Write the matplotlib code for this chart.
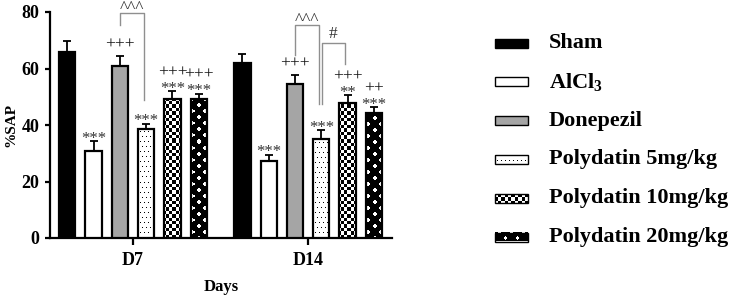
import numpy as np
import matplotlib
matplotlib.use("Agg")
import matplotlib.pyplot as plt
from matplotlib.patches import Rectangle

plt.rcParams['font.family'] = ['Liberation Serif', 'DejaVu Serif']
plt.rcParams['mathtext.fontset'] = 'custom'
plt.rcParams['mathtext.rm'] = 'Liberation Serif:bold'
plt.rcParams['mathtext.bf'] = 'Liberation Serif:bold'
plt.rcParams['mathtext.default'] = 'bf'

# data
days = ['D7', 'D14']
groups = ['Sham', 'AlCl$_3$', 'Donepezil', 'Polydatin 5mg/kg',
          'Polydatin 10mg/kg', 'Polydatin 20mg/kg']
means_d7 = [65.9, 30.8, 60.9, 38.6, 49.3, 49.3]
sem_d7 = [3.9, 3.6, 3.6, 1.9, 2.8, 1.8]
means_d14 = [61.8, 27.4, 54.5, 35.0, 47.9, 44.1]
sem_d14 = [3.3, 2.1, 3.3, 3.3, 2.7, 2.2]
stars_d7 = ['', '***', '', '***', '***', '***']
plus_d7 = ['', '', '+++', '', '+++', '+++']
stars_d14 = ['', '***', '', '***', '**', '***']
plus_d14 = ['', '', '+++', '', '+++', '++']
# (day, bar a, bar b, top, left leg end, right leg end, label)
brackets = [(0, 2, 3, 79.7, 75.4, 48.8, '^^^'),
            (1, 2, 3, 75.4, 64.8, 47.4, '^^^'),
            (1, 3, 4, 69.1, 47.4, 61.6, '#')]

faces = ['black', 'white', '#a5a5a5', 'white', 'white', 'white']
kinds = [None, None, None, 'dots', 'checker', 'diamond']
group_gap = 6.66
bar_w = 0.62
offsets = np.arange(6) - 2.5


def pattern(kind, X, Y):
    if kind == 'dots':
        row = np.floor(Y / 5.0)
        dark = (np.mod(Y, 5.0) < 1) & (np.mod(X + 2 * np.mod(row, 2), 4.0) < 1)
    elif kind == 'checker':
        c = 3.4
        dark = np.mod(np.floor(X / c) + np.floor(Y / c), 2) == 0
    else:
        p, w = 12.0, 5.0
        Xs = X + p / 2
        d1 = np.mod(Xs + Y, p) - p / 2
        d2 = np.mod(Xs - Y, p) - p / 2
        dark = ~((np.abs(d1) < w / 2) & (np.abs(d2) < w / 2))
    img = np.where(dark, 0.0, 1.0)
    return np.dstack([img] * 3)


def fill_bar(ax, bar, kind):
    inv = ax.transData.inverted()
    x0, y0 = ax.transData.transform((bar.get_x(), 0))
    x1, y1 = ax.transData.transform((bar.get_x() + bar.get_width(), bar.get_height()))
    x0, y0 = np.floor(x0), np.floor(y0)
    nx, ny = int(np.ceil(x1 - x0)), int(np.ceil(y1 - y0))
    cx = (x0 + x1) / 2
    X, Y = np.meshgrid(x0 + 0.5 + np.arange(nx) - cx, 0.5 + np.arange(ny))
    (dx0, dy0), (dx1, dy1) = inv.transform([(x0, y0), (x0 + nx, y0 + ny)])
    im = ax.imshow(pattern(kind, X, Y), origin='lower', extent=(dx0, dx1, dy0, dy1),
                   aspect='auto', interpolation='nearest', zorder=3.5)
    im.set_clip_path(bar)


fig = plt.figure(figsize=(7.4, 2.95), dpi=100)
ax = fig.add_axes([50 / 740, 57 / 295, 342 / 740, 226 / 295])
ax.set_xlim(-3.16, 9.85)
ax.set_ylim(0, 80)

data = [(means_d7, sem_d7, stars_d7, plus_d7), (means_d14, sem_d14, stars_d14, plus_d14)]
for g, (means, errs, stars, plus) in enumerate(data):
    xs = g * group_gap + offsets
    ax.errorbar(xs, means, yerr=[np.zeros(6), errs], fmt='none', ecolor='black',
                elinewidth=1.3, capsize=3.2, capthick=1.3, zorder=2)
    bars = ax.bar(xs, means, width=bar_w, color=faces, edgecolor='none', zorder=3)
    for bar, kind in zip(bars, kinds):
        if kind:
            fill_bar(ax, bar, kind)
    ax.bar(xs, means, width=bar_w, fill=False, edgecolor='black', linewidth=1.6, zorder=5)
    for x, m, e, s, p in zip(xs, means, errs, stars, plus):
        if s:
            ax.annotate(s, (x, m + e), xytext=(0, -1.3), textcoords='offset points',
                        ha='center', va='baseline', fontsize=12, color='#333333')
        if p:
            ax.annotate(p, (x, m + e), xytext=(0, 10.5 if s else 5.0),
                        textcoords='offset points', ha='center', va='baseline',
                        fontsize=12.5, color='#111111')

for g, a, b, top, lb, rb, lab in brackets:
    xa = g * group_gap + offsets[a] + (0.03 if lab == '#' else 0)
    xb = g * group_gap + offsets[b] - 0.1
    ax.plot([xa, xa, xb, xb], [lb, top, top, rb], color='#8f8f8f', lw=1,
            clip_on=False, zorder=6)
    ax.annotate(lab, ((xa + xb) / 2, top), xytext=(0, 0.5 if lab == '^^^' else 3.3),
                textcoords='offset points', ha='center', va='baseline',
                fontsize=12.5, color='#333333', annotation_clip=False)

for side in ['top', 'right']:
    ax.spines[side].set_visible(False)
for side in ['left', 'bottom']:
    ax.spines[side].set_linewidth(1.6)
ax.set_yticks([0, 20, 40, 60, 80])
ax.set_xticks([0, group_gap])
ax.set_xticklabels(days)
ax.tick_params(axis='y', length=3.6, width=1.6, pad=4, labelsize=13)
ax.tick_params(axis='x', length=5, width=1.6, pad=5, labelsize=13)
for lbl in ax.get_xticklabels() + ax.get_yticklabels():
    lbl.set_fontweight('bold')
ax.set_ylabel('%SAP', fontsize=11, fontweight='bold', labelpad=3)
ax.set_xlabel('Days', fontsize=12, fontweight='bold', labelpad=7)

# legend drawn in pixel coordinates
lg = fig.add_axes([0, 0, 1, 1])
lg.set_xlim(0, 740)
lg.set_ylim(295, 0)
lg.axis('off')
rows = np.linspace(43, 237, len(groups))
for yc, name, face, kind in zip(rows, groups, faces, kinds):
    x0, w, h = 495, 33, 9
    y0 = yc - h / 2
    lg.add_patch(Rectangle((x0, y0), w, h, facecolor=face, edgecolor='none', zorder=1))
    if kind:
        X, Y = np.meshgrid(np.arange(w) + 0.5 - w / 2, np.arange(h) + 0.5)
        lg.imshow(pattern(kind, X, Y), origin='upper', extent=(x0, x0 + w, y0 + h, y0),
                  aspect='auto', interpolation='nearest', zorder=2)
    lg.add_patch(Rectangle((x0, y0), w, h, fill=False, edgecolor='black', lw=1, zorder=3))
    lg.text(549, yc, name, fontsize=16, fontweight='bold', va='center', ha='left')

fig.savefig('out.png', dpi=100)
